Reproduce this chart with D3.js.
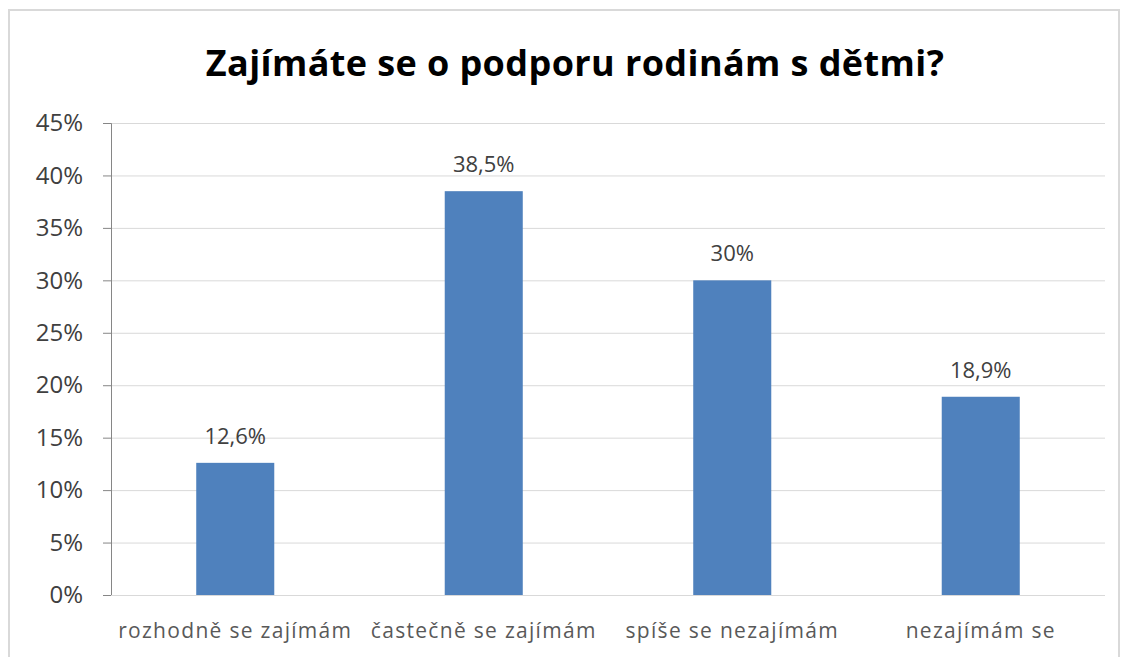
<!DOCTYPE html>
<html>
<head>
<meta charset="utf-8">
<script src="https://d3js.org/d3.v7.min.js"></script>
<style>
 body { margin: 0; background: #fff; }
 text { font-family: "Open Sans", "DejaVu Sans", sans-serif; }
</style>
</head>
<body>
<div id="chart"></div>
<script>
// data
var categories = ["rozhodně se zajímám", "častečně se zajímám", "spíše se nezajímám", "nezajímám se"];
var values = [12.6, 38.5, 30, 18.9];
var valueLabels = ["12,6%", "38,5%", "30%", "18,9%"];
var yTicks = [0, 5, 10, 15, 20, 25, 30, 35, 40, 45];
var title = "Zajímáte se o podporu rodinám s dětmi?";

var W = 1129, H = 657;
var margin = {top: 123, right: 24, bottom: 62, left: 111};
var width = W - margin.left - margin.right;
var height = H - margin.top - margin.bottom;

var svg = d3.select("#chart").append("svg")
  .attr("width", W)
  .attr("height", H);

// chart frame
svg.append("rect")
  .attr("x", 9).attr("y", 10)
  .attr("width", 1110).attr("height", 660)
  .attr("fill", "none")
  .attr("stroke", "#d9d9d9")
  .attr("stroke-width", 2);

svg.append("text")
  .attr("x", 575).attr("y", 76)
  .attr("text-anchor", "middle")
  .style("font-size", "36px")
  .style("font-weight", "bold")
  .style("letter-spacing", "0.4px")
  .attr("fill", "#000")
  .text(title);

var g = svg.append("g")
  .attr("transform", "translate(" + margin.left + "," + margin.top + ")");

var x = d3.scaleBand().domain(categories).range([0, width])
  .paddingInner(0.686).paddingOuter(0.343);
var y = d3.scaleLinear().domain([0, 45]).range([height, 0]);

// gridlines
g.selectAll(".grid")
  .data(yTicks.filter(function(d){ return d > 0; }))
  .enter().append("line")
  .attr("class", "grid")
  .attr("x1", 0).attr("x2", width)
  .attr("y1", function(d){ return y(d) + 0.5; })
  .attr("y2", function(d){ return y(d) + 0.5; })
  .attr("stroke", "#d9d9d9");

// y axis
var yAxis = g.append("g")
  .call(d3.axisLeft(y).tickValues(yTicks).tickSize(8).tickPadding(20)
    .tickFormat(function(d){ return d + "%"; }));
yAxis.select(".domain").attr("stroke", "#868686");
yAxis.selectAll(".tick line").attr("stroke", "#868686");
yAxis.selectAll(".tick text")
  .style("font-size", "24px")
  .attr("fill", "#404040");

// x axis baseline
g.append("line")
  .attr("x1", 0).attr("x2", width)
  .attr("y1", height + 0.5).attr("y2", height + 0.5)
  .attr("stroke", "#d9d9d9");

// bars
g.selectAll(".bar")
  .data(values)
  .enter().append("rect")
  .attr("class", "bar")
  .attr("x", function(d, i){ return x(categories[i]); })
  .attr("width", x.bandwidth())
  .attr("y", function(d){ return y(d); })
  .attr("height", function(d){ return height - y(d); })
  .attr("fill", "#4f81bd");

// value labels
g.selectAll(".vlabel")
  .data(values)
  .enter().append("text")
  .attr("class", "vlabel")
  .attr("x", function(d, i){ return x(categories[i]) + x.bandwidth() / 2; })
  .attr("y", function(d){ return y(d) - 19; })
  .attr("text-anchor", "middle")
  .style("font-size", "22px")
  .attr("fill", "#404040")
  .text(function(d, i){ return valueLabels[i]; });

// category labels
g.selectAll(".clabel")
  .data(categories)
  .enter().append("text")
  .attr("class", "clabel")
  .attr("x", function(d){ return x(d) + x.bandwidth() / 2; })
  .attr("y", height + 43)
  .attr("text-anchor", "middle")
  .style("font-size", "21px")
  .style("letter-spacing", "1.3px")
  .attr("fill", "#595959")
  .text(function(d){ return d; });
</script>
</body>
</html>
